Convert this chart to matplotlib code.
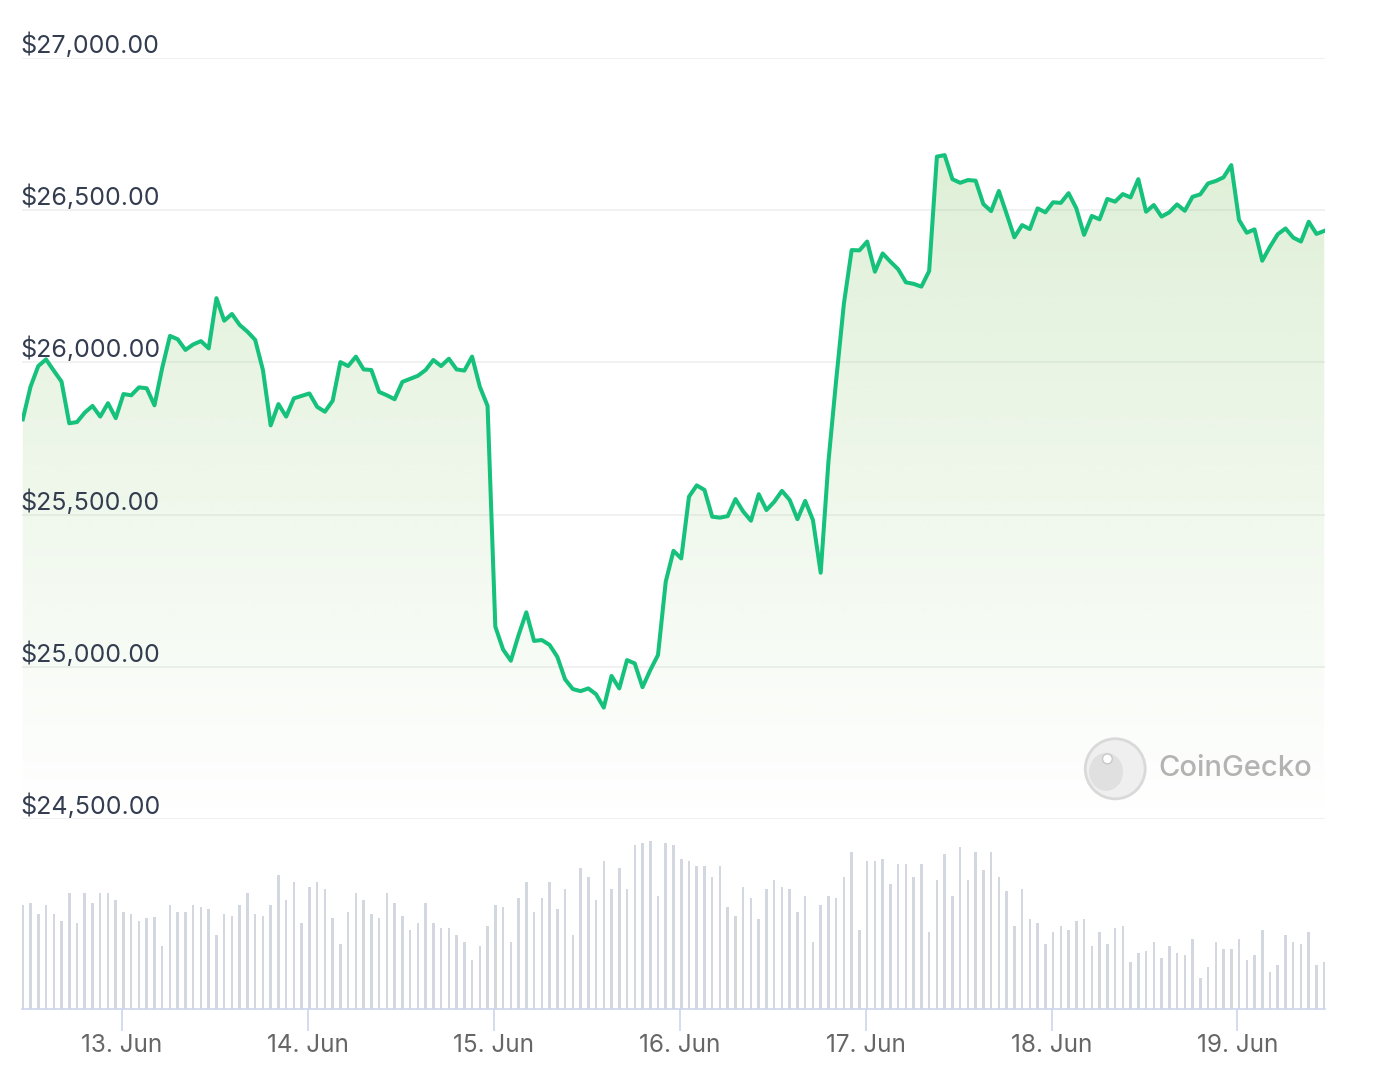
import numpy as np
import pandas as pd
import matplotlib
matplotlib.use('Agg')
import matplotlib.pyplot as plt
import matplotlib.dates as mdates
from matplotlib.colors import to_rgb
from matplotlib.patches import Ellipse

plt.rcParams['font.family'] = ['Inter', 'DejaVu Sans']

# hourly BTC price (USD), 12 Jun 11:00 -> 19 Jun 11:00
prices = [25813, 25920, 25988, 26010, 25973, 25937, 25800, 25804, 25835, 25857,
          25822, 25866, 25817, 25896, 25892, 25918, 25915, 25859, 25982, 26087,
          26076, 26041, 26059, 26070, 26046, 26211, 26137, 26159, 26123, 26101,
          26074, 25975, 25793, 25863, 25822, 25882, 25890, 25898, 25854, 25838,
          25874, 26001, 25988, 26019, 25977, 25975, 25903, 25892, 25879, 25936,
          25946, 25956, 25975, 26008, 25988, 26012, 25977, 25973, 26019, 25920,
          25857, 25132, 25057, 25020, 25104, 25179, 25085, 25088, 25072, 25033,
          24959, 24927, 24920, 24929, 24910, 24866, 24970, 24929, 25022, 25011,
          24933, 24989, 25039, 25280, 25381, 25356, 25559, 25596, 25581, 25493,
          25490, 25495, 25551, 25510, 25480, 25567, 25515, 25542, 25578, 25548,
          25485, 25545, 25482, 25309, 25674, 25942, 26194, 26369, 26368, 26397,
          26298, 26358, 26331, 26306, 26263, 26258, 26249, 26300, 26676, 26681,
          26602, 26590, 26599, 26597, 26520, 26497, 26563, 26488, 26411, 26451,
          26438, 26506, 26493, 26526, 26524, 26556, 26506, 26419, 26481, 26470,
          26537, 26528, 26553, 26542, 26602, 26495, 26517, 26479, 26493, 26519,
          26498, 26544, 26552, 26588, 26596, 26608, 26648, 26468, 26426, 26437,
          26334, 26380, 26421, 26440, 26410, 26397, 26462, 26422, 26432]

# hourly volume, relative units (no scale shown on the chart)
volumes = [104, 106, 95, 104, 95, 88, 116, 86, 116, 106,
           116, 116, 109, 97, 95, 88, 91, 92, 63, 104,
           97, 97, 104, 102, 100, 74, 95, 93, 104, 116,
           95, 93, 104, 134, 109, 127, 86, 122, 127, 120,
           91, 65, 97, 116, 109, 95, 91, 116, 106, 93,
           79, 86, 106, 86, 81, 81, 74,
           67, 49, 63, 83, 104, 102, 67, 111, 127, 97,
           111, 127, 100, 120, 74, 141, 132, 109, 148, 120,
           141, 120, 164, 166, 168, 113, 166, 164, 150, 148,
           143, 143, 132, 143, 102, 93, 122, 111, 90, 120,
           129, 122, 120, 97, 113, 67, 104, 113, 111, 132,
           157, 79, 148, 148, 150, 125, 145, 145,
           132, 145, 77, 129, 155, 113, 162, 129, 157, 139,
           157, 132, 118, 83, 120, 90, 86, 65, 77, 83,
           79, 88, 90, 63, 77, 65, 81, 83, 47, 56,
           58, 67, 51, 63, 56, 54, 70, 31, 42, 67,
           60, 60, 70, 49, 54, 79, 37, 44, 74, 67,
           65, 77, 44, 47]

times = pd.date_range('2023-06-12 11:12', periods=len(prices), freq='h')
price_ticks = [24500, 25000, 25500, 26000, 26500, 27000]
day_ticks = pd.date_range('2023-06-13', '2023-06-19', freq='D')

line_col = '#16c17c'
fill_col = '#8cc870'
grid_col = '#efefef'
axis_col = '#ccd6eb'

W, H = 1374, 1090
fig = plt.figure(figsize=(W / 100, H / 100), dpi=100)
ax = fig.add_axes([22 / W, 1 - 819 / H, 1303 / W, 761 / H])
axv = fig.add_axes([22 / W, 1 - 1009 / H, 1303 / W, 170 / H], sharex=ax)

x = mdates.date2num(times)
x0 = x[0] - 0.1 / 24
x1 = x[-1] + 0.1 / 24

# gradient area under the price line
poly = ax.fill_between(x, prices, price_ticks[0], color='none', lw=0)
grad = np.zeros((256, 1, 4))
grad[..., :3] = to_rgb(fill_col)
grad[..., 3] = np.linspace(0.32, 0.0, 256)[:, None]
img = ax.imshow(grad, extent=[x0, x1, price_ticks[0], price_ticks[-1]],
                aspect='auto', origin='upper', zorder=1, interpolation='bilinear')
img.set_clip_path(poly.get_paths()[0], ax.transData)

ax.plot(x, prices, color=line_col, lw=2.9, solid_joinstyle='round', zorder=3)

for v in price_ticks:
    ax.axhline(v, color=grid_col, lw=1.2, zorder=0)
    ax.annotate('${:,.2f}'.format(v), xy=(-0.0015, v), xycoords=('axes fraction', 'data'),
                xytext=(0, 0), textcoords='offset points', ha='left', va='bottom',
                fontsize=18, color='#333d4f', annotation_clip=False)

ax.set_xlim(x0, x1)
ax.set_ylim(price_ticks[0], price_ticks[-1])
ax.axis('off')

# CoinGecko watermark
ax.add_patch(Ellipse((0.839, 0.066), 0.046, 0.079, transform=ax.transAxes,
                     facecolor='#efefef', edgecolor='#d9d9d9', lw=2, zorder=4))
ax.add_patch(Ellipse((0.832, 0.062), 0.026, 0.05, transform=ax.transAxes,
                     facecolor='#e0e0e0', edgecolor='none', zorder=4))
ax.add_patch(Ellipse((0.833, 0.079), 0.0075, 0.013, transform=ax.transAxes,
                     facecolor='white', edgecolor='#c8c8c8', lw=1, zorder=5))
ax.text(0.872, 0.066, 'CoinGecko', transform=ax.transAxes, ha='left', va='center',
        fontsize=21, color='#b3b3b3', fontweight='medium', zorder=5)

# volume bars
axv.bar(x, volumes, width=0.0135, color='#d3d7e0', lw=0)
axv.set_ylim(0, 170)
axv.set_xlim(x0, x1)
axv.set_yticks([])
for s in ['left', 'right', 'top']:
    axv.spines[s].set_visible(False)
axv.spines['bottom'].set_color(axis_col)
axv.spines['bottom'].set_linewidth(1.2)
axv.set_xticks(mdates.date2num(day_ticks))
axv.xaxis.set_major_formatter(mdates.DateFormatter('%d. %b'))
axv.tick_params(axis='x', length=16, width=1.2, color=axis_col, pad=2,
                labelsize=17.5, labelcolor='#666666')
axv.set_facecolor('none')

fig.savefig('out.png', dpi=100)
